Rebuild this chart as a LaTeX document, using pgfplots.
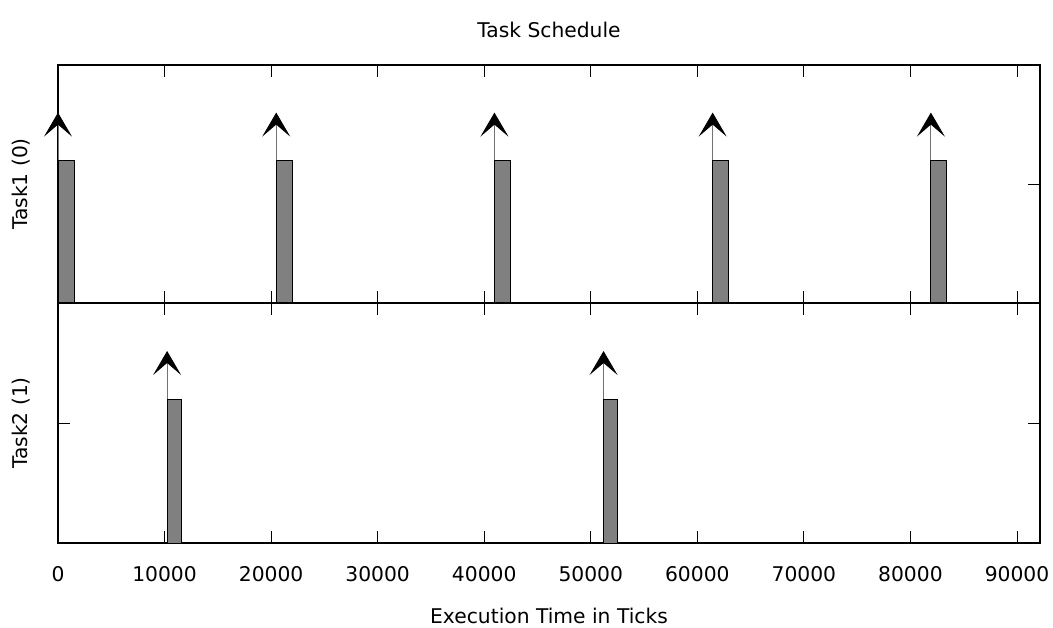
\documentclass[border=0pt]{standalone}
\usepackage{fontspec}
\setmainfont{DejaVu Sans}
\usepackage{pgfplots}
\pgfplotsset{compat=1.18}
\usetikzlibrary{arrows.meta}
\pgfplotsset{
  sched/.style={
    scale only axis, width=736.5pt,
    xmin=0, xmax=92160, ymin=0, ymax=1,
    xtick={0,10000,20000,30000,40000,50000,60000,70000,80000,90000},
    ytick={0.5}, yticklabels={},
    tick align=inside, major tick length=9pt,
    tick style={black, line width=0.6pt},
    axis line style={black, line width=0.9pt},
    clip=false,
    font=\fontsize{15.2pt}{18pt}\selectfont,
    /pgf/number format/assume math mode=true,
    /pgf/number format/1000 sep={},
    scaled x ticks=false,
    every axis y label/.style={at={(axis description cs:-0.0377,0.5)}, rotate=90, anchor=center},
  },
  bar/.style={fill=gray, draw=black, line width=0.6pt},
  rel/.style={black!55, line width=0.6pt, -{Stealth[length=18pt,width=21pt,inset=9pt,black]}},
}
\begin{document}
\begin{tikzpicture}
\path[use as bounding box] (0,0) rectangle (789.75pt,471pt);
% Top panel: Task1
\begin{axis}[sched, height=178.5pt, at={(43.5pt,243.75pt)}, anchor=south west,
  xticklabels={},
  ylabel={Task1 (0)},
  title={Task Schedule},
  every axis title/.style={at={(axis description cs:0.5,1.147)}, anchor=center}]
\addplot[rel] coordinates {(0,0) (0,0.8)};
\addplot[rel] coordinates {(20480,0) (20480,0.8)};
\addplot[rel] coordinates {(40960,0) (40960,0.8)};
\addplot[rel] coordinates {(61440,0) (61440,0.8)};
\addplot[rel] coordinates {(81920,0) (81920,0.8)};
\addplot[bar] coordinates {(0,0) (0,0.6) (1500,0.6) (1500,0)} --cycle;
\addplot[bar] coordinates {(20480,0) (20480,0.6) (21980,0.6) (21980,0)} --cycle;
\addplot[bar] coordinates {(40960,0) (40960,0.6) (42460,0.6) (42460,0)} --cycle;
\addplot[bar] coordinates {(61440,0) (61440,0.6) (62940,0.6) (62940,0)} --cycle;
\addplot[bar] coordinates {(81920,0) (81920,0.6) (83420,0.6) (83420,0)} --cycle;
\end{axis}
% Bottom panel: Task2
\begin{axis}[sched, height=180pt, at={(43.5pt,63.75pt)}, anchor=south west,
  xticklabel style={anchor=center, yshift=-23.25pt},
  ylabel={Task2 (1)},
  xlabel={Execution Time in Ticks},
  every axis x label/.style={at={(axis description cs:0.5,-0.304)}, anchor=center}]
\addplot[rel] coordinates {(10240,0) (10240,0.8)};
\addplot[rel] coordinates {(51200,0) (51200,0.8)};
\addplot[bar] coordinates {(10240,0) (10240,0.6) (11540,0.6) (11540,0)} --cycle;
\addplot[bar] coordinates {(51200,0) (51200,0.6) (52500,0.6) (52500,0)} --cycle;
\end{axis}
\end{tikzpicture}
\end{document}
